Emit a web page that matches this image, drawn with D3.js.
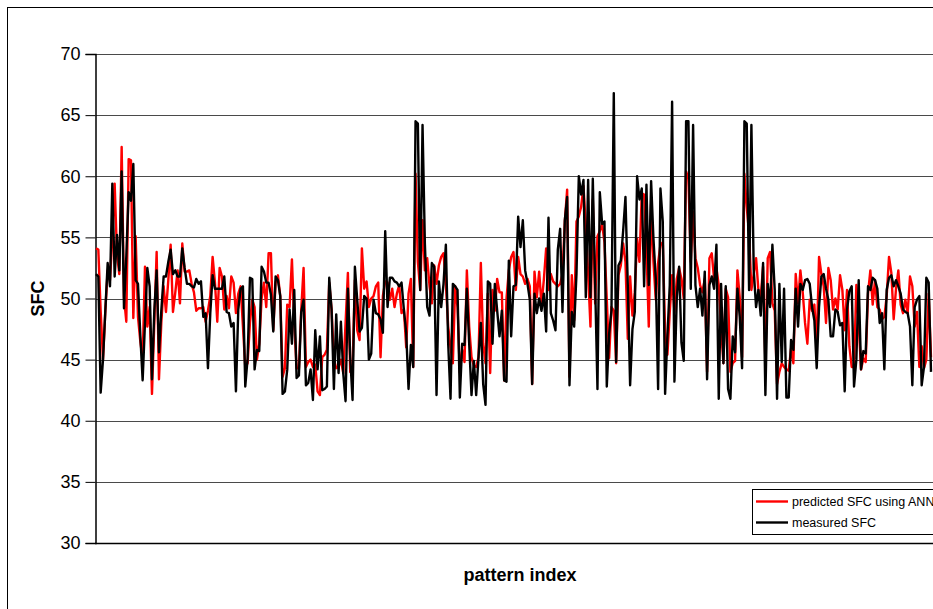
<!DOCTYPE html>
<meta charset="utf-8">
<title>SFC: predicted vs measured</title>
<script src="https://d3js.org/d3.v7.min.js"></script>
<style>
  html, body { margin: 0; padding: 0; background: #fff; }
  svg { display: block; font-family: "Liberation Sans", Arial, sans-serif; }
</style>
<body>
<div id="chart"></div>
<script>
// values, one per pattern index
const measured = [
  52.0, 51.8, 42.3, 45.0, 49.0, 52.9, 51.0, 59.4, 51.8, 55.2, 52.3, 60.4, 49.2, 53.5, 58.7, 58.0, 61.0, 51.5, 51.2, 47.0,
  43.3, 48.0, 52.5, 51.0, 43.4, 49.0, 52.3, 45.6, 49.0, 51.8, 51.8, 53.0, 54.0, 52.0, 52.3, 51.8, 51.8, 54.1, 52.5, 51.2,
  51.2, 51.0, 50.9, 51.6, 51.2,
  51.4, 48.5, 48.8, 44.3, 48.8, 51.9, 50.8, 50.8, 50.8, 50.8, 51.8, 48.9, 48.8, 47.7, 48.0, 42.4, 49.1, 50.8, 51.0, 42.8,
  45.1, 51.7, 51.6, 44.2, 45.8, 45.7, 52.6, 52.2, 51.3, 51.3, 50.3, 47.3, 51.8, 51.5, 50.2, 42.2, 42.4, 44.2, 49.1, 46.3,
  50.7, 43.5, 43.7, 48.9, 49.9,
  42.9, 43.1, 44.2, 41.7, 47.4, 44.2, 46.9, 42.5, 42.6, 42.8, 51.7, 49.1, 42.6, 48.7, 43.9, 48.1, 43.9, 41.6, 50.8, 45.2,
  41.7, 52.6, 49.9, 47.3, 47.6, 50.2, 50.0, 45.0, 45.5, 49.9, 48.8, 48.7, 48.3, 47.2, 55.5, 49.3, 51.7, 51.7, 51.4, 51.3,
  51.0, 51.3, 49.1, 47.2,
  42.6, 46.2, 44.4, 64.5, 64.3, 50.7, 64.2, 54.5, 49.3, 48.6, 52.9, 52.6, 42.1, 51.4, 49.3, 51.2, 54.4, 46.3, 41.8, 51.2,
  51.0, 50.7, 41.9, 46.3, 46.2, 50.8, 46.3, 42.1, 44.9, 42.1, 45.2, 48.0, 43.0, 41.3, 51.4, 51.2, 46.3, 51.2, 49.0, 46.9,
  49.0, 43.3, 43.2, 53.1, 46.9,
  51.0, 51.1, 56.7, 54.2, 56.4, 52.3, 51.2, 49.9, 43.0, 50.4, 48.8, 50.0, 49.0, 50.4, 47.3, 56.6, 48.8, 48.2, 47.4, 54.0,
  55.7, 48.9, 56.4, 58.3, 42.9, 48.9, 47.7, 52.0, 60.0, 58.5, 59.7, 50.1, 59.7, 50.1, 59.8, 51.2, 42.6, 58.7, 56.1, 56.3,
  42.8, 47.1, 49.0, 66.8,
  44.8, 52.7, 53.1, 55.5, 58.3, 51.1, 42.9, 47.5, 48.9, 60.0, 58.1, 59.0, 51.0, 59.3, 51.1, 59.6, 54.9, 51.6, 42.6, 59.0,
  56.3, 42.2, 47.0, 51.1, 66.1, 43.2, 50.0, 52.6, 46.4, 44.9, 64.5, 64.5, 50.8, 64.2, 51.1, 49.3, 50.8, 48.6, 52.2, 43.4,
  51.1, 51.8, 50.8, 54.4, 41.8,
  51.2, 44.7, 51.0, 42.6, 41.8, 46.9, 45.6, 50.8, 48.5, 44.3, 64.5, 64.3, 50.7, 64.2, 52.3, 49.3, 50.7, 48.6, 52.9, 42.1,
  51.2, 49.3, 54.4, 50.7, 41.8, 51.2, 44.8, 50.8, 41.9, 41.9, 46.6, 45.8, 50.8, 47.7, 51.2, 50.7, 51.5, 51.6, 51.2, 49.3,
  48.2, 44.3, 49.3, 51.8, 52.0,
  50.8, 49.9, 46.9, 46.9, 49.1, 48.9, 47.8, 48.0, 42.4, 49.1, 50.6, 51.0, 42.8, 45.0, 51.5, 44.2, 45.7, 45.5, 51.0, 50.7,
  51.7, 51.5, 50.8, 48.0, 48.8, 44.2, 50.7, 51.7, 51.9, 51.0, 51.5, 51.0, 50.4, 49.1, 48.9, 48.8, 47.7, 42.9, 49.3, 49.9,
  50.2, 42.9, 44.4, 51.7, 51.3, 44.0
];

const predicted = [
  54.1, 54.0, 49.0, 45.0, 49.0, 52.3, 51.5, 55.0, 59.4, 53.6, 52.0, 62.4, 50.1, 48.1, 61.4, 61.3, 48.4, 55.1, 48.5, 46.5,
  45.0, 52.6, 47.7, 49.3, 42.2, 48.0, 53.8, 43.4, 48.0, 51.0, 48.9, 51.5, 54.4, 48.9, 50.5, 52.3, 49.6, 54.5, 52.2, 52.2,
  52.3, 51.2, 50.5, 49.0, 49.2,
  49.2, 49.3, 48.1, 49.0, 50.2, 53.4, 51.3, 48.1, 52.5, 51.8, 49.1, 50.2, 49.2, 51.8, 51.3, 48.8, 50.4, 51.0, 47.7, 44.4,
  44.7, 48.0, 49.9, 49.3, 45.0, 46.3, 50.0, 51.3, 49.3, 53.7, 53.7, 47.4, 51.3, 51.9, 50.2, 43.6, 44.3, 49.5, 49.3, 53.2,
  48.0, 44.3, 44.3, 49.1, 52.5,
  44.4, 44.8, 45.0, 44.4, 44.6, 42.4, 42.1, 45.2, 45.4, 45.8, 51.3, 49.1, 45.0, 44.3, 44.4, 45.0, 43.9, 48.0, 52.1, 44.0,
  44.3, 51.5, 47.4, 46.6, 54.1, 50.8, 51.4, 49.3, 50.0, 50.2, 51.0, 51.3, 45.2, 50.2, 51.4, 51.3, 49.9, 50.8, 49.3, 50.4,
  51.1, 48.8, 49.1, 46.0,
  50.4, 51.6, 44.4, 60.2, 53.0, 50.7, 56.4, 52.3, 53.3, 51.0, 49.6, 52.7, 51.2, 52.7, 53.4, 53.7, 51.2, 47.7, 46.0, 44.7,
  51.0, 49.3, 43.9, 45.8, 44.8, 52.3, 47.7, 45.2, 44.5, 44.4, 45.2, 52.9, 46.3, 44.7, 50.4, 43.9, 50.7, 49.0, 51.6, 50.5,
  50.5, 43.3, 50.0, 52.3, 53.4,
  53.8, 50.7, 53.4, 52.0, 51.8, 51.2, 51.6, 51.0, 43.0, 52.2, 50.1, 52.2, 49.5, 51.5, 54.1, 50.7, 52.0, 51.4, 51.2, 51.0,
  51.2, 52.0, 56.3, 58.9, 43.6, 51.9, 48.2, 56.3, 56.7, 57.5, 59.2, 55.9, 52.0, 47.7, 58.1, 49.6, 55.1, 55.5, 56.1, 54.6,
  49.9, 45.1, 49.3, 49.0,
  44.7, 51.9, 52.7, 54.5, 53.0, 46.7, 51.8, 48.6, 50.5, 54.9, 53.0, 58.6, 58.5, 54.1, 47.7, 57.7, 53.0, 49.9, 52.9, 54.4,
  54.6, 47.3, 45.4, 48.9, 51.9, 48.9, 51.6, 52.5, 51.6, 50.0, 60.4, 59.8, 53.0, 57.1, 53.3, 52.5, 51.1, 50.5, 51.6, 44.0,
  53.3, 53.7, 51.6, 52.5, 51.1,
  47.7, 44.7, 50.8, 50.1, 44.0, 44.7, 44.9, 52.3, 50.1, 45.2, 60.2, 57.5, 55.3, 50.7, 52.0, 53.3, 50.7, 50.1, 52.6, 44.7,
  53.3, 53.8, 49.6, 49.0, 43.0, 44.0, 44.7, 44.4, 44.2, 44.1, 45.9, 44.7, 52.0, 49.6, 52.3, 50.5, 48.0, 46.3, 49.9, 49.0,
  49.5, 46.0, 53.4, 52.0, 51.0,
  48.0, 52.5, 51.5, 49.1, 50.0, 49.1, 51.9, 50.7, 47.4, 50.7, 46.1, 44.4, 44.4, 51.1, 48.0, 44.2, 45.1, 44.8, 50.4, 52.3,
  49.5, 51.5, 49.3, 49.1, 48.3, 48.5, 50.2, 53.4, 52.1, 48.3, 50.8, 52.3, 49.5, 48.8, 49.9, 48.8, 51.8, 51.0, 47.7, 48.9,
  44.4, 46.1, 44.3, 45.0, 50.4, 45.2
];

const yTicks = [30, 35, 40, 45, 50, 55, 60, 65, 70];
const seriesNames = ["predicted SFC using ANN", "measured SFC"];
const seriesColors = ["#ff0000", "#000000"];

const width = 933, height = 609;
const plot = {left: 96, top: 54, right: 944, bottom: 543};

const svg = d3.select("#chart").append("svg")
    .attr("width", width)
    .attr("height", height);

svg.append("rect")
    .attr("width", width).attr("height", height)
    .attr("fill", "#fff");

// chart area frame (runs off the right and bottom of the picture)
svg.append("rect")
    .attr("x", 7.5).attr("y", 7.5)
    .attr("width", 1000).attr("height", 700)
    .attr("fill", "none")
    .attr("stroke", "#000")
    .attr("stroke-width", 1);

const n = measured.length;
const x = d3.scaleLinear()
    .domain([0, n - 1])
    .range([plot.left, 931]);

const y = d3.scaleLinear()
    .domain([30, 70])
    .range([plot.bottom, plot.top]);

// gridlines
svg.append("g")
  .selectAll("line")
  .data(yTicks.slice(1))
  .join("line")
    .attr("x1", plot.left).attr("x2", plot.right)
    .attr("y1", d => Math.round(y(d)) + 0.5)
    .attr("y2", d => Math.round(y(d)) + 0.5)
    .attr("stroke", "#4a4a4a")
    .attr("stroke-width", 1);

// y axis
const yAxis = svg.append("g")
    .attr("transform", `translate(${plot.left - 0.5},0)`)
    .call(d3.axisLeft(y).tickValues(yTicks).tickSize(10).tickPadding(5).tickFormat(d3.format("d")));
yAxis.select(".domain").attr("stroke", "#000").attr("stroke-width", 1.5);
yAxis.selectAll(".tick line").attr("stroke", "#000");
yAxis.selectAll(".tick text")
    .attr("font-size", 18)
    .attr("fill", "#000")
    .attr("font-family", "'Liberation Sans', Arial, sans-serif");

// x axis line
svg.append("line")
    .attr("x1", plot.left - 1).attr("x2", plot.right)
    .attr("y1", plot.bottom + 0.5).attr("y2", plot.bottom + 0.5)
    .attr("stroke", "#000")
    .attr("stroke-width", 1.5);

// series
const line = d3.line()
    .x((d, i) => x(i))
    .y(d => y(d));

svg.append("g")
    .attr("fill", "none")
    .attr("stroke-width", 2.4)
    .attr("stroke-linejoin", "round")
  .selectAll("path")
  .data([predicted, measured])
  .join("path")
    .attr("stroke", (d, i) => seriesColors[i])
    .attr("d", line);

// axis titles
svg.append("text")
    .attr("transform", `translate(44,${(plot.top + plot.bottom) / 2}) rotate(-90)`)
    .attr("text-anchor", "middle")
    .attr("font-size", 18)
    .attr("font-weight", "bold")
    .text("SFC");

svg.append("text")
    .attr("x", 520)
    .attr("y", 581)
    .attr("text-anchor", "middle")
    .attr("font-size", 18)
    .attr("font-weight", "bold")
    .text("pattern index");

// legend
const legend = svg.append("g").attr("transform", "translate(752,489)");
legend.append("rect")
    .attr("x", 0.5).attr("y", 0.5)
    .attr("width", 250).attr("height", 45)
    .attr("fill", "#fff")
    .attr("stroke", "#000")
    .attr("stroke-width", 1);

const item = legend.selectAll("g.item")
  .data(seriesNames)
  .join("g")
    .attr("class", "item")
    .attr("transform", (d, i) => `translate(0,${12.5 + i * 21})`);

item.append("line")
    .attr("x1", 4).attr("x2", 36)
    .attr("stroke", (d, i) => seriesColors[i])
    .attr("stroke-width", 2.4);

item.append("text")
    .attr("x", 40)
    .attr("dy", "0.35em")
    .attr("font-size", 12.5)
    .text(d => d);
</script>
</body>
